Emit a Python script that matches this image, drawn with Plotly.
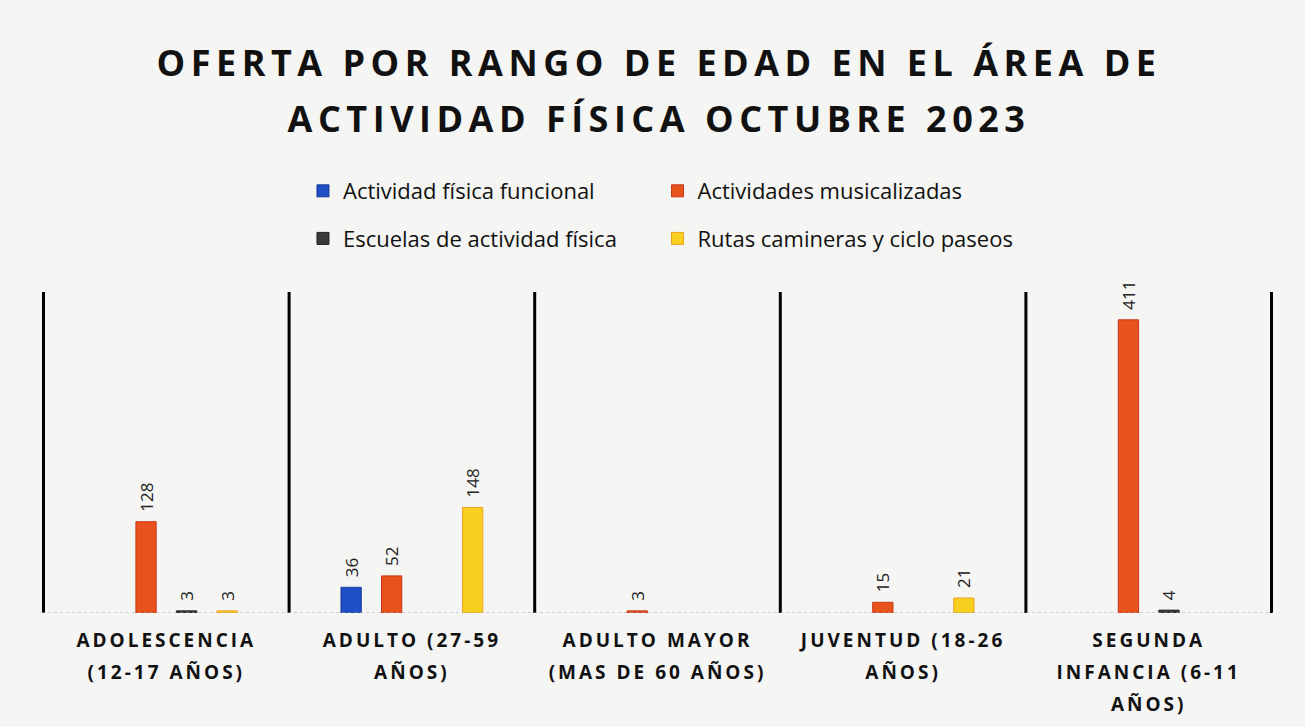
import plotly.graph_objects as go

categories = ["ADOLESCENCIA<br>(12-17 AÑOS)", "ADULTO (27-59<br>AÑOS)", "ADULTO MAYOR<br>(MAS DE 60 AÑOS)",
              "JUVENTUD (18-26<br>AÑOS)", "SEGUNDA<br>INFANCIA (6-11<br>AÑOS)"]
series_names = ["Actividad física funcional", "Actividades musicalizadas",
                "Escuelas de actividad física", "Rutas camineras y ciclo paseos"]
funcional = [None, 36, None, None, None]
musicalizadas = [128, 52, 3, 15, 411]
escuelas = [3, None, None, None, 4]
rutas = [3, 148, None, 21, None]
values = [funcional, musicalizadas, escuelas, rutas]
colors = ["#1f4fc4", "#e8521c", "#3a3a3a", "#f7cf1e"]
edges = ["#173a99", "#c9361a", "#222222", "#f0a020"]
legends = ["legend", "legend2", "legend", "legend2"]

fig = go.Figure()
for name, vals, c, e, lg in zip(series_names, values, colors, edges, legends):
    fig.add_trace(go.Bar(
        x=categories, y=vals, name=name, legend=lg, legendgroup=name,
        marker=dict(color=c, line=dict(color=e, width=1)),
        text=[("" if v is None else str(v)) for v in vals],
        textposition="outside", textangle=-90, constraintext="none",
        textfont=dict(size=17, color="#222", family="Open Sans"),
        cliponaxis=False,
    ))

for i in range(len(categories) + 1):
    fig.add_shape(type="line", xref="x", yref="paper", x0=i - 0.5, x1=i - 0.5,
                  y0=0, y1=1, line=dict(color="black", width=3))
fig.add_shape(type="line", xref="paper", yref="y", x0=0, x1=1, y0=0, y1=0,
              line=dict(color="#aaaaaa", width=1, dash="dot"))

fig.update_layout(
    width=1305, height=727,
    paper_bgcolor="#f5f5f4", plot_bgcolor="#f5f5f4",
    margin=dict(l=42, r=32, t=292, b=114),
    barmode="group", bargap=0.34, bargroupgap=0.5,
    title=dict(text="<b>OFERTA POR RANGO DE EDAD EN EL ÁREA DE<br>ACTIVIDAD FÍSICA OCTUBRE 2023</b>",
               x=0.505, xanchor="center", y=0.895, yanchor="top",
               font=dict(family="Open Sans", size=36, color="#111")),
    legend=dict(x=0.212, xanchor="left", y=1.38, yanchor="top", bgcolor="rgba(0,0,0,0)",
                font=dict(family="Open Sans", size=22, color="#111"), tracegroupgap=16,
                itemwidth=30),
    legend2=dict(x=0.5, xanchor="left", y=1.38, yanchor="top", bgcolor="rgba(0,0,0,0)",
                 font=dict(family="Open Sans", size=22, color="#111"), tracegroupgap=16,
                 itemwidth=30),
    xaxis=dict(showgrid=False, showline=False, ticks="", ticklabelstandoff=14,
               tickfont=dict(family="Open Sans", size=19, color="#111", weight="bold")),
    yaxis=dict(range=[0, 450], visible=False, showgrid=False, zeroline=False),
)

post = """
document.body.style.margin = '0';
var gd = document.getElementById('{plot_id}');
function respace(sel, ls, factor){
  gd.querySelectorAll(sel).forEach(function(t){
    t.style.letterSpacing = ls;
    t.querySelectorAll('tspan.line').forEach(function(s){
      var d = s.getAttribute('dy');
      if (d && d.indexOf('em') > 0) {
        var v = parseFloat(d);
        if (v) s.setAttribute('dy', (v * factor) + 'em');
      }
    });
  });
}
respace('.gtitle', '5.5px', 1.55 / 1.3);
respace('.xtick text', '3px', 1.68 / 1.3);
gd.querySelectorAll('text.bartext').forEach(function(t){
  t.setAttribute('transform', 'translate(0,-7) ' + (t.getAttribute('transform') || ''));
});
"""

fig.write_html("out.html", post_script=post, config={"displayModeBar": False})
